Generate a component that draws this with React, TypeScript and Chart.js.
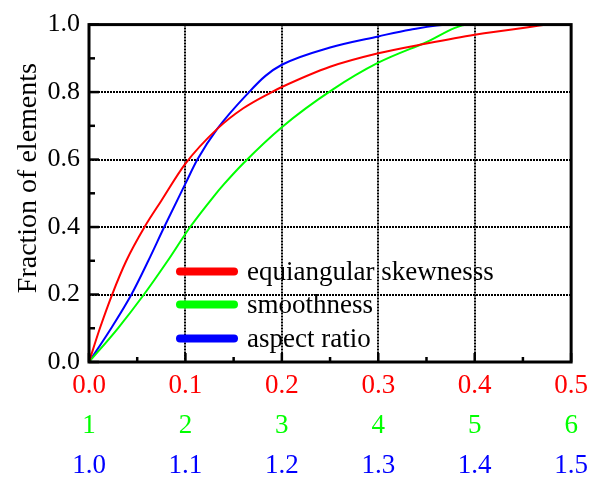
import React, { useEffect, useRef } from 'react';
import { Chart, registerables } from 'chart.js';

Chart.register(...registerables);

// ---- data ----
const seriesLabels = ['equiangular skewnesss', 'smoothness', 'aspect ratio'];
const seriesColors = ['#ff0000', '#00ff00', '#0000ff'];

const skewX = [0, 0.0113, 0.024, 0.0387, 0.0576, 0.075, 0.1, 0.133, 0.16, 0.1895, 0.2, 0.25, 0.3, 0.35, 0.4, 0.45, 0.48, 0.5];
const skewY = [0, 0.1, 0.2, 0.3, 0.4, 0.478, 0.588, 0.691, 0.752, 0.8, 0.815, 0.875, 0.915, 0.944, 0.97, 0.99, 1.0, 1.0];

const smoothX = [1, 1.3, 1.57, 1.816, 2.049, 2.28, 2.4, 2.604, 3.0, 3.53, 4.0, 4.47, 4.95, 6];
const smoothY = [0, 0.1, 0.2, 0.3, 0.4, 0.486, 0.527, 0.59, 0.696, 0.808, 0.887, 0.944, 1.0, 1.0];

const aspectX = [1.0, 1.023, 1.044, 1.0615, 1.078, 1.1004, 1.1124, 1.133, 1.166, 1.183, 1.2, 1.25, 1.3, 1.333, 1.376, 1.5];
const aspectY = [0, 0.1, 0.2, 0.3, 0.4, 0.531, 0.6, 0.691, 0.8, 0.848, 0.881, 0.932, 0.965, 0.985, 1.0, 1.0];

const yTickValues = [0, 0.2, 0.4, 0.6, 0.8, 1.0];
const skewTickValues = [0, 0.1, 0.2, 0.3, 0.4, 0.5];
const smoothTickValues = [1, 2, 3, 4, 5, 6];
const aspectTickValues = [1.0, 1.1, 1.2, 1.3, 1.4, 1.5];
const yMinorStep = 0.1;
const xMinorStep = 0.05;
const yTitle = 'Fraction of elements';

const decorPlugin = {
  id: 'decor',
  afterDraw(chart: any) {
    const { ctx, chartArea: a, scales } = chart;
    ctx.save();
    ctx.strokeStyle = '#000';
    ctx.lineWidth = 3;
    ctx.strokeRect(a.left, a.top, a.right - a.left, a.bottom - a.top);
    ctx.lineWidth = 2.5;
    const ys = scales.y;
    const nY = Math.round((ys.max - ys.min) / yMinorStep);
    for (let i = 0; i <= nY; i++) {
      const py = ys.getPixelForValue(ys.min + i * yMinorStep);
      const len = i % 2 === 0 ? 10 : 6;
      ctx.beginPath();
      ctx.moveTo(a.left, py);
      ctx.lineTo(a.left + len, py);
      ctx.stroke();
    }
    const xs = scales.xSkew;
    const nX = Math.round((xs.max - xs.min) / xMinorStep);
    for (let i = 0; i <= nX; i++) {
      const px = xs.getPixelForValue(xs.min + i * xMinorStep);
      const len = i % 2 === 0 ? 9 : 5;
      ctx.beginPath();
      ctx.moveTo(px, a.bottom);
      ctx.lineTo(px, a.bottom - len);
      ctx.stroke();
    }
    const rows = [247, 280, 314];
    chart.data.datasets.forEach((ds: any, i: number) => {
      const y = a.top + rows[i];
      ctx.strokeStyle = ds.borderColor;
      ctx.lineWidth = 8;
      ctx.lineCap = 'round';
      ctx.beginPath();
      ctx.moveTo(a.left + 91, y);
      ctx.lineTo(a.left + 145, y);
      ctx.stroke();
      ctx.fillStyle = '#000';
      ctx.font = '27px Liberation Serif';
      ctx.textAlign = 'left';
      ctx.textBaseline = 'middle';
      ctx.fillText(ds.label, a.left + 158, y + 1);
    });
    ctx.translate(28.5, a.top + (a.bottom - a.top) * 0.455);
    ctx.rotate(-Math.PI / 2);
    ctx.fillStyle = '#000';
    ctx.font = '28px Liberation Serif';
    ctx.textAlign = 'center';
    ctx.textBaseline = 'middle';
    ctx.fillText(yTitle, 0, 0);
    ctx.restore();
  },
};

function toPoints(xs: number[], ys: number[]) {
  return xs.map((x, i) => ({ x, y: ys[i] }));
}

export default function App() {
  const ref = useRef<HTMLCanvasElement | null>(null);
  useEffect(() => {
    if (!ref.current) return;
    const chart = new Chart(ref.current, {
      type: 'line',
      data: {
        datasets: [
          { label: seriesLabels[0], data: toPoints(skewX, skewY), xAxisID: 'xSkew', borderColor: seriesColors[0] },
          { label: seriesLabels[1], data: toPoints(smoothX, smoothY), xAxisID: 'xSmooth', borderColor: seriesColors[1] },
          { label: seriesLabels[2], data: toPoints(aspectX, aspectY), xAxisID: 'xAspect', borderColor: seriesColors[2] },
        ].map((d) => ({
          ...d,
          borderWidth: 2,
          pointRadius: 0,
          fill: false,
          cubicInterpolationMode: 'monotone',
        })),
      },
      options: {
        animation: false,
        responsive: false,
        layout: { padding: { top: 19, right: 21, left: 0, bottom: 0 } },
        plugins: { legend: { display: false }, tooltip: { enabled: false } },
        scales: {
          y: {
            type: 'linear',
            min: 0,
            max: 1,
            afterBuildTicks: (s: any) => { s.ticks = yTickValues.map((v) => ({ value: v })); },
            afterFit: (s: any) => { s.width = 89; },
            ticks: { font: { family: 'Liberation Serif', size: 26 }, color: '#000', padding: 9, callback: (v: any) => Number(v).toFixed(1) },
            grid: {
              drawTicks: false,
              lineWidth: 2,
              color: (c: any) => (c.tick && (c.tick.value === 0 || c.tick.value === 1) ? 'rgba(0,0,0,0)' : '#000'),
            },
            border: { display: false, dash: [2, 1] },
          },
          xSkew: {
            type: 'linear',
            position: 'bottom',
            weight: 0,
            min: 0,
            max: 0.5,
            afterBuildTicks: (s: any) => { s.ticks = skewTickValues.map((v) => ({ value: v })); },
            afterFit: (s: any) => { s.height = 42; },
            ticks: { font: { family: 'Liberation Serif', size: 27 }, color: seriesColors[0], padding: 8, maxRotation: 0, callback: (v: any) => Number(v).toFixed(1) },
            grid: {
              drawTicks: false,
              lineWidth: 2,
              color: (c: any) => (c.tick && (c.tick.value === 0 || c.tick.value === 0.5) ? 'rgba(0,0,0,0)' : '#000'),
            },
            border: { display: false, dash: [2, 1] },
          },
          xSmooth: {
            type: 'linear',
            position: 'bottom',
            weight: 1,
            min: 1,
            max: 6,
            afterBuildTicks: (s: any) => { s.ticks = smoothTickValues.map((v) => ({ value: v })); },
            afterFit: (s: any) => { s.height = 40; },
            ticks: { font: { family: 'Liberation Serif', size: 27 }, color: seriesColors[1], padding: 6, maxRotation: 0, callback: (v: any) => String(Math.round(Number(v))) },
            grid: { display: false, drawTicks: false },
            border: { display: false },
          },
          xAspect: {
            type: 'linear',
            position: 'bottom',
            weight: 2,
            min: 1,
            max: 1.5,
            afterBuildTicks: (s: any) => { s.ticks = aspectTickValues.map((v) => ({ value: v })); },
            afterFit: (s: any) => { s.height = 37; },
            ticks: { font: { family: 'Liberation Serif', size: 27 }, color: seriesColors[2], padding: 6, maxRotation: 0, callback: (v: any) => Number(v).toFixed(1) },
            grid: { display: false, drawTicks: false },
            border: { display: false },
          },
        },
      },
      plugins: [decorPlugin],
    } as any);
    return () => chart.destroy();
  }, []);
  return (
    <div>
      <canvas ref={ref} width={596} height={481} style={{ display: 'block', marginLeft: -8, marginTop: -8 }} />
    </div>
  );
}
